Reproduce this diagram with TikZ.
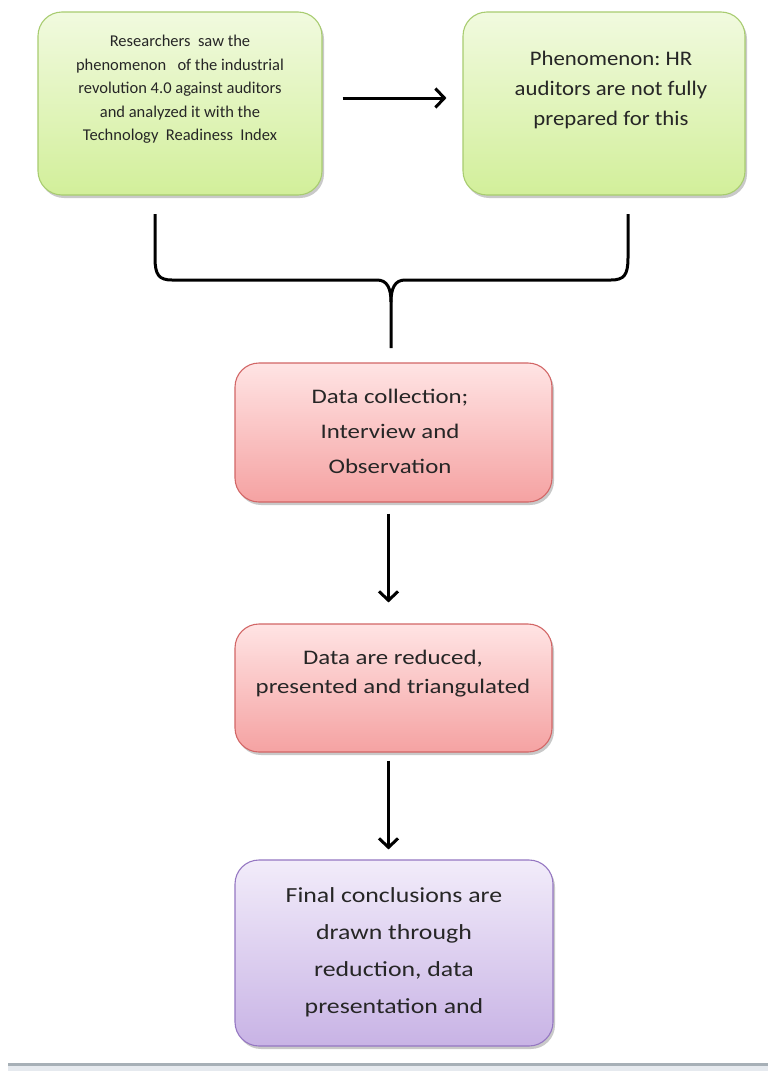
\documentclass[tikz,border=0pt]{standalone}
\usepackage{fontspec}
\setmainfont{Carlito}
\newfontfamily\wideA[FakeStretch=1.2]{Carlito}
\newfontfamily\wideB[FakeStretch=1.1]{Carlito}
\usetikzlibrary{arrows.meta,shadows,calc}
\definecolor{gtop}{HTML}{F1FADF}
\definecolor{gbot}{HTML}{D2EF9A}
\definecolor{gline}{HTML}{A8CC70}
\definecolor{rtop}{HTML}{FFE4E4}
\definecolor{rbot}{HTML}{F5A2A2}
\definecolor{rline}{HTML}{D26666}
\definecolor{ptop}{HTML}{F2ECFA}
\definecolor{pbot}{HTML}{C8B3E5}
\definecolor{pline}{HTML}{9577C2}
\definecolor{rulec}{HTML}{A7B0B7}
\definecolor{rulel}{HTML}{E6EAEF}
\begin{document}
\begin{tikzpicture}[x=1pt,y=-1pt,
  box/.style={draw, line width=1.1pt, rounded corners=24pt, inner sep=0pt,
    drop shadow={shadow xshift=2pt,shadow yshift=-3pt,opacity=0.35,fill=black!60}},
  gbox/.style={box, draw=gline, top color=gtop, bottom color=gbot},
  rbox/.style={box, draw=rline, top color=rtop, bottom color=rbot},
  pbox/.style={box, draw=pline, top color=ptop, bottom color=pbot},
  txt/.style={anchor=north, align=center, inner sep=0pt, text=black!85},
  conn/.style={line width=3pt, -{Straight Barb[length=9pt,width=19pt,line width=3pt]}},
  brace/.style={line width=3pt, line join=round}
]
\useasboundingbox (0,0) rectangle (768,1071);
\fill[white] (0,0) rectangle (768,1071);

% boxes
\node[gbox, minimum width=284pt, minimum height=183pt] (b1) at (180,103.5) {};
\node[gbox, minimum width=282pt, minimum height=183pt] (b2) at (604,103.5) {};
\node[rbox, minimum width=317pt, minimum height=139pt] (r1) at (393.5,432.5) {};
\node[rbox, minimum width=317pt, minimum height=128pt] (r2) at (393.5,688) {};
\node[pbox, minimum width=318pt, minimum height=186pt] (p1) at (394,953) {};

% texts
\node[txt, font=\fontsize{16.5}{23.5}\selectfont] (t1) at (180,35)
  {Researchers\ \ saw the\\ phenomenon\ \ \ of the industrial\\ revolution 4.0 against\ auditors\\ and analyzed it with the\\ Technology\ \ Readiness\ \ Index};
\node[txt, font=\wideB\fontsize{20.7}{30}\selectfont] (t2) at (611,51)
  {Phenomenon:\ HR\\ auditors are not fully\\ prepared for this};
\node[txt, font=\wideA\fontsize{20.7}{35}\selectfont] (t3) at (390,389)
  {Data collection;\\ Interview and\\ Observation};
\node[txt, font=\wideA\fontsize{20.7}{28.5}\selectfont] (t4) at (393,650)
  {Data are reduced,\\ presented and triangulated};
\node[txt, font=\wideA\fontsize{21.5}{37}\selectfont] (t5) at (394,887)
  {Final conclusions are\\ drawn through\\ reduction, data\\ presentation and};

% connectors
\coordinate (ax) at (388.5,0);
\coordinate (ay) at (0,98);
\draw[conn, shorten <=20pt, shorten >=16pt] (b1.east |- ay) -- (b2.west |- ay);
\draw[conn, shorten <=11pt, shorten >=21pt] (r1.south -| ax) -- (r2.north -| ax);
\draw[conn, shorten <=8pt, shorten >=10pt] (r2.south -| ax) -- (p1.north -| ax);

% brace
\coordinate (bl) at (155,214);
\coordinate (br) at (628,214);
\coordinate (bs) at (391,348);
\draw[brace] (bl) -- (155,258) .. controls (155,275) and (159,280) .. (172,280)
  -- (377,280) .. controls (387,280) and (391,288) .. (391,302) -- (bs);
\draw[brace] (br) -- (628,258) .. controls (628,275) and (624,280) .. (611,280)
  -- (405,280) .. controls (395,280) and (391,288) .. (391,302);

% bottom rule
\fill[rulel] (8,1066) rectangle (768,1071);
\draw[rulec, line width=2.6pt] (8,1064.5) -- (768,1064.5);
\end{tikzpicture}
\end{document}
